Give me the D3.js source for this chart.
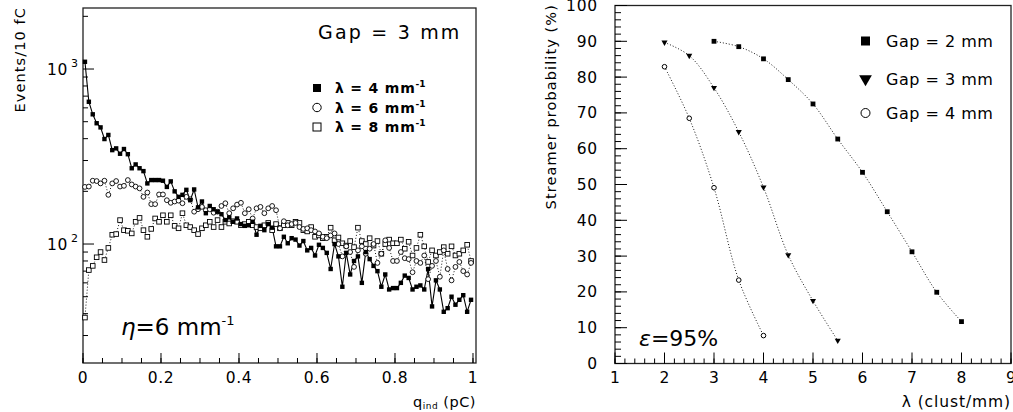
<!DOCTYPE html>
<html><head><meta charset="utf-8">
<script src="https://cdn.jsdelivr.net/npm/d3@7/dist/d3.min.js"></script>
<style>
body{margin:0;background:#fff}
svg{display:block}
text{font-family:"DejaVu Sans",sans-serif;fill:#000}
</style>
</head><body>
<svg id="c" width="1013" height="412"></svg>
<script>
// ---------------- DATA ----------------
// Left panel: induced-charge spectra, 10 fC bins from 0 to 1 pC (Gap = 3 mm, eta = 6 /mm)
const binWidth = 0.01;
const nBins = 100;
const lambda4Counts = [
  1100,650,551,490,464,398,420,344,352,328,
  349,326,271,285,271,261,222,232,232,232,
  230,212,228,200,186,191,204,178,205,162,
  175,150,165,158,153,148,137,142,134,140,
  130,127,128,134,113,127,120,130,124,97,
  97,110,101,108,106,98,104,92,95,86,
  99,95,89,72,100,85,57,89,67,80,
  85,60,90,82,75,70,57,67,55,56,
  56,60,66,64,55,57,58,55,72,44,
  62,55,41,43,50,45,48,51,41,48
];
const lambda6Counts = [
  212,213,230,229,222,230,191,222,229,213,
  215,232,219,213,208,186,197,169,169,192,
  192,178,172,175,177,171,186,180,153,158,
  163,156,158,151,153,165,171,150,160,168,
  172,150,158,140,160,163,150,160,165,156,
  123,135,128,130,132,125,122,123,120,118,
  115,110,108,112,115,100,85,97,90,74,
  92,97,88,94,100,78,88,105,95,80,
  80,90,83,82,69,80,78,86,63,75,
  80,65,92,72,62,74,79,70,67,78
];
const lambda8Counts = [
  38,71,75,84,90,81,95,113,114,137,
  120,119,115,134,141,120,110,122,140,134,
  146,134,146,127,123,150,128,125,120,114,
  123,128,134,125,137,125,134,131,135,134,
  128,130,134,128,125,123,128,132,120,130,
  123,128,132,128,134,132,120,118,125,110,
  112,108,110,124,105,109,101,98,104,96,
  124,104,100,108,98,104,88,100,106,101,
  101,106,94,103,86,95,113,97,79,92,
  86,90,96,88,97,86,88,92,99,80
];
const qTicks = [0,0.2,0.4,0.6,0.8,1];
const qTickLabels = ["0","0.2","0.4","0.6","0.8","1"];
const countTicks = [100,1000];
const countTickExp = ["2","3"];
const leftLegend = ["\u03bb = 4 mm","\u03bb = 6 mm","\u03bb = 8 mm"];

// Right panel: streamer probability vs lambda
const gap2Lambda = [3,3.5,4,4.5,5,5.5,6,6.5,7,7.5,8];
const gap2Prob   = [90.0,88.5,85.1,79.3,72.5,62.7,53.4,42.4,31.2,19.9,11.7];
const gap3Lambda = [2,2.5,3,3.5,4,4.5,5,5.5];
const gap3Prob   = [89.7,86.0,77.0,64.7,49.2,30.3,17.5,6.4];
const gap4Lambda = [2,2.5,3,3.5,4];
const gap4Prob   = [82.9,68.5,49.1,23.3,7.8];
const lambdaTicks = [1,2,3,4,5,6,7,8,9];
const probTicks = [0,10,20,30,40,50,60,70,80,90,100];
const rightLegend = ["Gap = 2 mm","Gap = 3 mm","Gap = 4 mm"];

// ---------------- DRAW ----------------
const svg = d3.select("#c");

// ===== Left panel =====
const L = {x0:83, x1:476, y0:8, y1:363};
const xL = d3.scaleLinear().domain([0, 1.0077]).range([L.x0, L.x1]);
const yL = d3.scaleLog().domain([20.9, 2232]).range([L.y1, L.y0]);
const centers = d3.range(nBins).map(i => (i + 0.5) * binWidth);

const gL = svg.append("g");
gL.append("rect").attr("x",L.x0).attr("y",L.y0).attr("width",L.x1-L.x0).attr("height",L.y1-L.y0)
  .attr("fill","none").attr("stroke","#222").attr("stroke-width",1.3);

const qMinor = d3.range(0, 1.0001, 0.05);
gL.selectAll(".qmin").data(qMinor).join("line")
  .attr("x1",d=>xL(d)).attr("x2",d=>xL(d)).attr("y1",L.y1).attr("y2",L.y1-5)
  .attr("stroke","#000").attr("stroke-width",1);
gL.selectAll(".qmaj").data(qTicks).join("line")
  .attr("x1",d=>xL(d)).attr("x2",d=>xL(d)).attr("y1",L.y1).attr("y2",L.y1-10)
  .attr("stroke","#000").attr("stroke-width",1);
gL.selectAll(".qlab").data(qTicks).join("text")
  .attr("x",d=>xL(d)).attr("y",383).attr("text-anchor","middle")
  .attr("font-size",15.5).attr("letter-spacing",0.6).text((d,i)=>qTickLabels[i]);

const yMinor = [30,40,50,60,70,80,90,200,300,400,500,600,700,800,900,2000];
gL.selectAll(".ymin").data(yMinor).join("line")
  .attr("x1",L.x0).attr("x2",L.x0+5).attr("y1",d=>yL(d)).attr("y2",d=>yL(d))
  .attr("stroke","#000").attr("stroke-width",1);
gL.selectAll(".ymaj").data(countTicks).join("line")
  .attr("x1",L.x0).attr("x2",L.x0+11).attr("y1",d=>yL(d)).attr("y2",d=>yL(d))
  .attr("stroke","#000").attr("stroke-width",1);
gL.selectAll(".ylab").data(countTicks).join("text")
  .attr("x",68).attr("y",d=>yL(d)+6).attr("text-anchor","end").attr("font-size",15.5)
  .attr("letter-spacing",0.6).text("10");
gL.selectAll(".yexp").data(countTicks).join("text")
  .attr("x",71).attr("y",d=>yL(d)-2).attr("font-size",11).text((d,i)=>countTickExp[i]);

gL.append("text").attr("transform","translate(25,7) rotate(-90)").attr("text-anchor","end")
  .attr("font-size",14.5).attr("letter-spacing",1.1).text("Events/10 fC");
const xt = gL.append("text").attr("x",L.x1).attr("y",407).attr("text-anchor","end").attr("font-size",14.5)
  .attr("letter-spacing",0.5);
xt.append("tspan").text("q");
xt.append("tspan").attr("font-size",9).attr("dy",2).text("ind");
xt.append("tspan").attr("dy",-2).text(" (pC)");

const lineL = d3.line().x((d,i)=>xL(centers[i])).y(d=>yL(d));
gL.append("path").datum(lambda8Counts).attr("d",lineL).attr("fill","none")
  .attr("stroke","#000").attr("stroke-width",0.9).attr("stroke-dasharray","1,2");
gL.append("path").datum(lambda6Counts).attr("d",lineL).attr("fill","none")
  .attr("stroke","#000").attr("stroke-width",0.9).attr("stroke-dasharray","1,2");
gL.append("path").datum(lambda4Counts).attr("d",lineL).attr("fill","none")
  .attr("stroke","#000").attr("stroke-width",1.1);

gL.selectAll(".s8").data(lambda8Counts).join("rect")
  .attr("x",(d,i)=>xL(centers[i])-2.3).attr("y",d=>yL(d)-2.3).attr("width",4.6).attr("height",4.6)
  .attr("fill","#fff").attr("stroke","#000").attr("stroke-width",0.9);
gL.selectAll(".s6").data(lambda6Counts).join("circle")
  .attr("cx",(d,i)=>xL(centers[i])).attr("cy",d=>yL(d)).attr("r",2.4)
  .attr("fill","#fff").attr("stroke","#000").attr("stroke-width",0.9);
gL.selectAll(".s4").data(lambda4Counts).join("rect")
  .attr("x",(d,i)=>xL(centers[i])-2.2).attr("y",d=>yL(d)-2.2).attr("width",4.4).attr("height",4.4)
  .attr("fill","#000");

gL.append("text").attr("x",318).attr("y",39).attr("font-size",19).attr("letter-spacing",2.2).text("Gap = 3 mm");
const legY = [88,107.5,127];
gL.append("rect").attr("x",313).attr("y",legY[0]-4).attr("width",8).attr("height",8).attr("fill","#000");
gL.append("circle").attr("cx",317).attr("cy",legY[1]).attr("r",4.2).attr("fill","#fff").attr("stroke","#000").attr("stroke-width",1);
gL.append("rect").attr("x",313).attr("y",legY[2]-4).attr("width",8).attr("height",8).attr("fill","#fff").attr("stroke","#000").attr("stroke-width",1);
leftLegend.forEach((t,i)=>{
  const tx = gL.append("text").attr("x",335).attr("y",legY[i]+5).attr("font-size",14).attr("font-weight","bold")
    .attr("letter-spacing",0.8);
  tx.append("tspan").text(t);
  tx.append("tspan").attr("dy",-6).attr("font-size",9).attr("letter-spacing",0).text("-1");
});
const eta = gL.append("text").attr("x",121).attr("y",335).attr("font-size",23);
eta.append("tspan").attr("font-style","italic").text("\u03b7");
eta.append("tspan").text("=6 mm");
eta.append("tspan").attr("dy",-10).attr("font-size",13).text("-1");

// ===== Right panel =====
const R = {x0:615, x1:1011, y0:5.5, y1:363.5};
const xR = d3.scaleLinear().domain([1,9]).range([R.x0, R.x1]);
const yR = d3.scaleLinear().domain([0,100]).range([R.y1, R.y0]);
const gR = svg.append("g");
gR.append("rect").attr("x",R.x0).attr("y",R.y0).attr("width",R.x1-R.x0).attr("height",R.y1-R.y0)
  .attr("fill","none").attr("stroke","#222").attr("stroke-width",1.3);

const lamMinor = d3.range(1, 9.0001, 0.2);
gR.selectAll(".lmin").data(lamMinor).join("line")
  .attr("x1",d=>xR(d)).attr("x2",d=>xR(d)).attr("y1",R.y1).attr("y2",R.y1-5)
  .attr("stroke","#000").attr("stroke-width",1);
gR.selectAll(".lmaj").data(lambdaTicks).join("line")
  .attr("x1",d=>xR(d)).attr("x2",d=>xR(d)).attr("y1",R.y1).attr("y2",R.y1-11)
  .attr("stroke","#000").attr("stroke-width",1);
gR.selectAll(".llab").data(lambdaTicks).join("text")
  .attr("x",d=>xR(d)).attr("y",383).attr("text-anchor","middle").attr("font-size",15.5).text(d=>d);

const probMinor = d3.range(0, 100.001, 2);
gR.selectAll(".pmin").data(probMinor).join("line")
  .attr("x1",R.x0).attr("x2",R.x0+6).attr("y1",d=>yR(d)).attr("y2",d=>yR(d))
  .attr("stroke","#000").attr("stroke-width",1);
gR.selectAll(".pmaj").data(probTicks).join("line")
  .attr("x1",R.x0).attr("x2",R.x0+12).attr("y1",d=>yR(d)).attr("y2",d=>yR(d))
  .attr("stroke","#000").attr("stroke-width",1);
gR.selectAll(".plab").data(probTicks).join("text")
  .attr("x",598).attr("y",d=>yR(d)+5.5).attr("text-anchor","end").attr("font-size",15.5)
  .attr("letter-spacing",0.8).text(d=>d);

gR.append("text").attr("transform","translate(556,4) rotate(-90)").attr("text-anchor","end")
  .attr("font-size",14.5).attr("letter-spacing",1.1).text("Streamer probability (%)");
gR.append("text").attr("x",R.x1).attr("y",407).attr("text-anchor","end").attr("font-size",15.5)
  .attr("letter-spacing",0.9).text("\u03bb (clust/mm)");

const lineR = d3.line().x(d=>xR(d[0])).y(d=>yR(d[1])).curve(d3.curveCatmullRom);
const zipped = (xs, ys) => xs.map((x,i)=>[x, ys[i]]);
const g2 = zipped(gap2Lambda, gap2Prob), g3 = zipped(gap3Lambda, gap3Prob), g4 = zipped(gap4Lambda, gap4Prob);
[g2,g3,g4].forEach(s=>{
  gR.append("path").datum(s).attr("d",lineR).attr("fill","none").attr("stroke","#000")
    .attr("stroke-width",0.9).attr("stroke-dasharray","1,2");
});
gR.selectAll(".g2").data(g2).join("rect")
  .attr("x",d=>xR(d[0])-2.4).attr("y",d=>yR(d[1])-2.4).attr("width",4.8).attr("height",4.8).attr("fill","#000");
const tri = d3.symbol().type(d3.symbolTriangle).size(16);
gR.selectAll(".g3").data(g3).join("path")
  .attr("d",tri).attr("transform",d=>`translate(${xR(d[0])},${yR(d[1])}) rotate(180)`).attr("fill","#000");
gR.selectAll(".g4").data(g4).join("circle")
  .attr("cx",d=>xR(d[0])).attr("cy",d=>yR(d[1])).attr("r",2.3)
  .attr("fill","#fff").attr("stroke","#000").attr("stroke-width",1);

const legRY = [41,79,113];
gR.append("rect").attr("x",861).attr("y",legRY[0]-4.5).attr("width",9).attr("height",9).attr("fill","#000");
gR.append("path").attr("d",d3.symbol().type(d3.symbolTriangle).size(70))
  .attr("transform",`translate(865.5,${legRY[1]}) rotate(180)`).attr("fill","#000");
gR.append("circle").attr("cx",865.5).attr("cy",legRY[2]).attr("r",4.5).attr("fill","#fff").attr("stroke","#000").attr("stroke-width",1);
rightLegend.forEach((t,i)=>{
  gR.append("text").attr("x",886).attr("y",legRY[i]+6).attr("font-size",16).attr("letter-spacing",0.5).text(t);
});
const eps = gR.append("text").attr("x",639).attr("y",346).attr("font-size",22);
eps.append("tspan").attr("font-style","italic").text("\u03b5");
eps.append("tspan").text("=95%");
</script>
</body></html>
